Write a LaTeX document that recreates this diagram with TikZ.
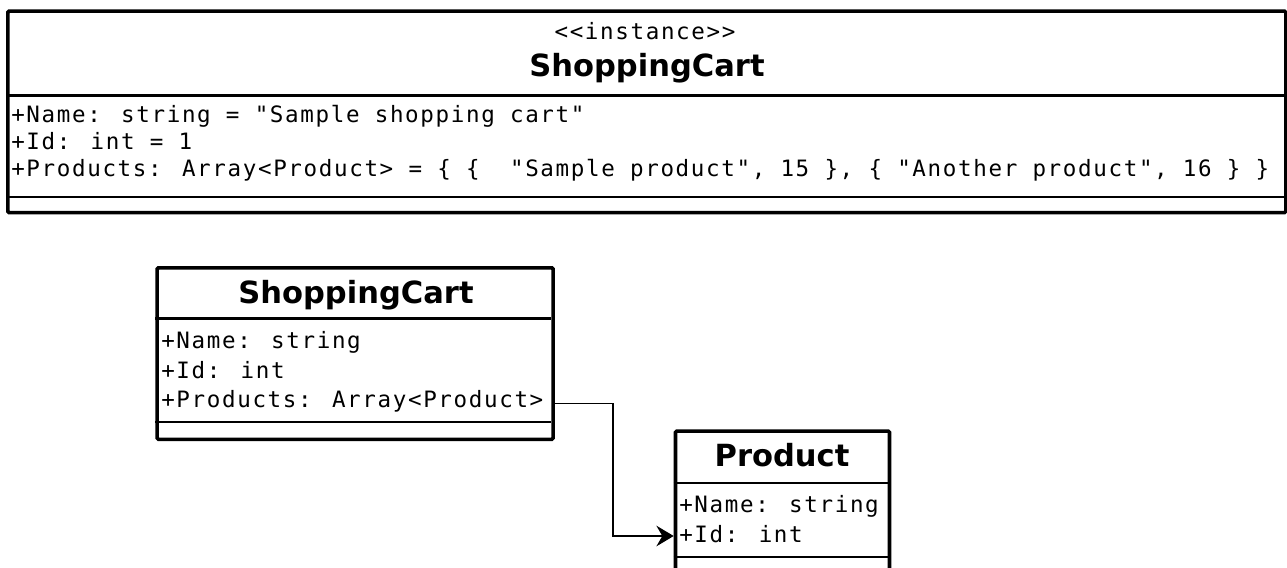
\documentclass[tikz,border=0pt]{standalone}
\usepackage{fontspec}
\usetikzlibrary{arrows.meta}
\newfontfamily\umlmono{DejaVu Sans Mono}[LetterSpace=7.3]
\newfontfamily\umlbold{DejaVu Sans Bold}
\tikzset{
  umlbox/.style={draw=black, line width=2.7pt, rounded corners=1pt},
  umldiv/.style={draw=black, line width=2.1pt},
  attr/.style={anchor=base west, inner sep=0pt, font=\umlmono\fontsize{16.9pt}{19pt}\selectfont},
  stereo/.style={anchor=base, inner sep=0pt, font=\umlmono\fontsize{16.9pt}{19pt}\selectfont},
  ctitle/.style={anchor=base, inner sep=0pt, font=\umlbold\fontsize{22.9pt}{26pt}\selectfont},
  conn/.style={draw=black, line width=0.95pt, -{Stealth[length=13pt, width=15.5pt, inset=4.5pt]}},
}
\begin{document}
\begin{tikzpicture}[x=0.75pt, y=-0.75pt]
\useasboundingbox (0,0) rectangle (1287,567);
\clip (0,0) rectangle (1287,567);
% ---------- instance box ----------
\node[umlbox, minimum width=1278*0.75pt, minimum height=201.5*0.75pt, inner sep=0pt, anchor=north west] (inst) at (6,9.3) {};
\draw[umldiv] (6,95.7) -- (1284,95.7);
\draw[umldiv] (6,197) -- (1284,197);
\node[stereo] (istereo) at (645,40) {<<instance>>};
\node[ctitle] (ititle) at (647,76.5) {ShoppingCart};
\node[attr] (ia1) at (11,122.5) {+Name: string = "Sample shopping cart"};
\node[attr] (ia2) at (11,149.5) {+Id: int = 1};
\node[attr] (ia3) at (11,176.5) {+Products: Array<Product> = \{ \{~~"Sample product", 15 \}, \{ "Another product", 16 \} \}};
% ---------- ShoppingCart class ----------
\node[umlbox, minimum width=396*0.75pt, minimum height=171.5*0.75pt, inner sep=0pt, anchor=north west] (cart) at (155.3,266) {};
\draw[umldiv] (155.3,318.5) -- (551.3,318.5);
\draw[umldiv] (155.3,422) -- (551.3,422);
\node[ctitle] (ctitle) at (356,303) {ShoppingCart};
\node[attr] (ca1) at (161,348) {+Name: string};
\node[attr] (ca2) at (161,378) {+Id: int};
\node[attr] (ca3) at (161,407.5) {+Products: Array<Product>};
% ---------- Product class ----------
\node[umlbox, minimum width=214*0.75pt, minimum height=180*0.75pt, inner sep=0pt, anchor=north west] (prod) at (673.7,429.3) {};
\draw[umldiv] (673.7,483) -- (887.7,483);
\draw[umldiv] (673.7,557) -- (887.7,557);
\node[ctitle] (ptitle) at (782,466) {Product};
\node[attr] (pa1) at (679,512) {+Name: string};
\node[attr] (pa2) at (679,542.5) {+Id: int};
% ---------- connector ----------
\coordinate (bend) at (613,403.3);
\draw[conn] (cart.east |- bend) -- (bend) |- (prod.west |- 0,536);
\end{tikzpicture}
\end{document}
